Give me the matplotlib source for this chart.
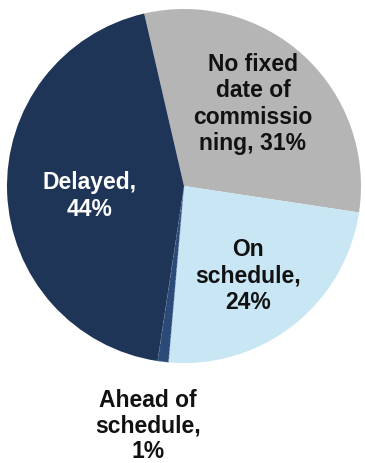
import matplotlib
matplotlib.use("Agg")
import matplotlib.pyplot as plt

categories = ["No fixed date of commissioning", "On schedule", "Ahead of schedule", "Delayed"]
values = [31, 24, 1, 44]
label_texts = ["No fixed\ndate of\ncommissio\nning, 31%", "On\nschedule,\n24%", "Ahead of\nschedule,\n1%", "Delayed,\n44%"]
colors = ["#b5b5b5", "#c8e6f4", "#2b4a78", "#1e3557"]
text_colors = ["#111111", "#111111", "#111111", "#ffffff"]

W, H = 365, 464
fig = plt.figure(figsize=(W / 100, H / 100), dpi=100)
ax = fig.add_axes([0, 0, 1, 1])

cx, cy, r = 184, H - 187, 177
wedges, _ = ax.pie(values, colors=colors, startangle=103, counterclock=False,
                   center=(cx, cy), radius=r, frame=True,
                   wedgeprops=dict(linewidth=0))
wedges[2].set_edgecolor("#9fb4d0")
wedges[2].set_linewidth(0.6)
wedges[2].set_linestyle((0, (2, 3)))
ax.set_xlim(0, W)
ax.set_ylim(0, H)
ax.set_aspect("equal")
ax.axis("off")

label_pos = [(253, 104), (248, 276), (148, 426), (90, 196)]
spacings = [1.2, 1.2, 1.15, 1.2]
for txt, (x, y), tc, ls in zip(label_texts, label_pos, text_colors, spacings):
    ax.text(x, H - y, txt, ha="center", va="center", fontsize=16.5,
            fontweight="bold", family="Liberation Sans", color=tc,
            linespacing=ls)

fig.savefig("out.png", dpi=100)
